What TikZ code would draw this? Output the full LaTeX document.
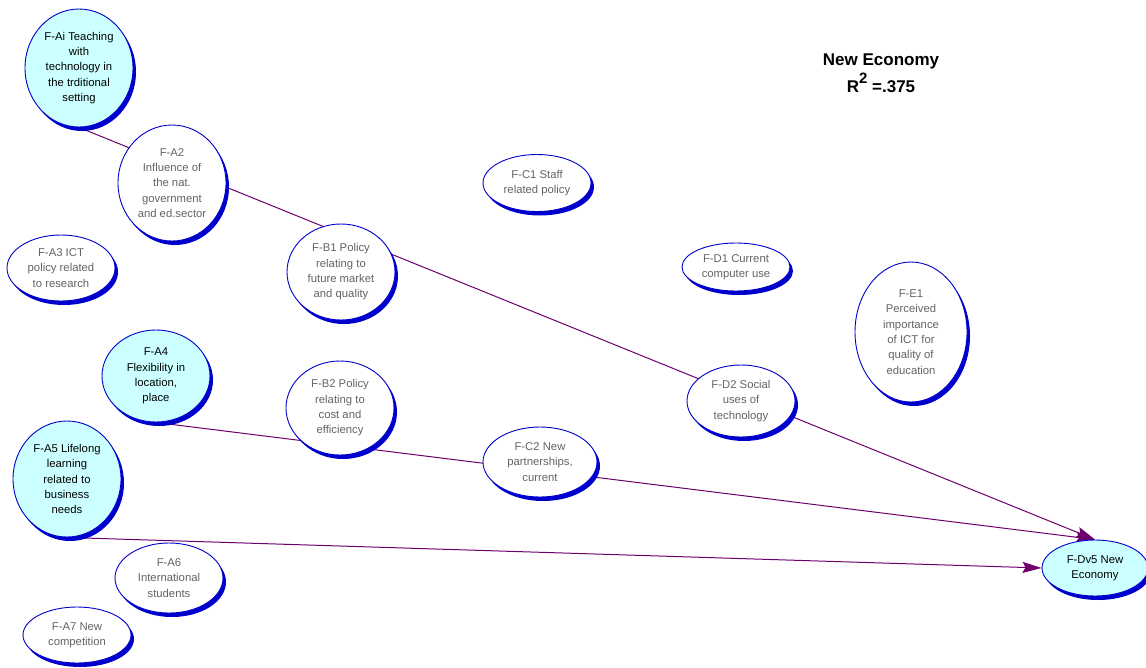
\documentclass[tikz,border=0pt]{standalone}
\usepackage{fontspec}
\setmainfont{Liberation Sans}
\usetikzlibrary{shapes.geometric,shadows,arrows.meta,backgrounds}

\definecolor{rimblue}{RGB}{0,0,204}
\definecolor{keycyan}{RGB}{204,255,255}
\definecolor{labelgray}{RGB}{100,100,100}
\definecolor{linkpurple}{RGB}{110,0,110}

\tikzset{
  factor/.style={ellipse, draw=rimblue, line width=0.9pt, fill=white,
    text=labelgray, align=center, inner sep=0pt,
    font=\fontsize{11.3}{15.3}\selectfont,
    drop shadow={shadow xshift=3pt, shadow yshift=-4pt, fill=rimblue, opacity=1}},
  keyfactor/.style={factor, fill=keycyan, text=black},
  ewh/.style 2 args={minimum width=#1pt, minimum height=#2pt},
  link/.style={draw=linkpurple, line width=1pt,
    -{Stealth[length=19pt, width=11pt, inset=3pt]}},
  heading/.style={align=center, font=\fontsize{17}{27}\selectfont\bfseries}
}

\begin{document}
\begin{tikzpicture}[x=1pt, y=-1pt]
\useasboundingbox (0,0) rectangle (1146,667);

% factor ellipses
\node[keyfactor, ewh={108}{118}] (ai) at (79,68)
  {F-Ai Teaching\\with\\technology in\\the trditional\\setting};
\node[factor, ewh={108}{116}] (a2) at (172,183)
  {F-A2\\Influence of\\the nat.\\government\\and ed.sector};
\node[factor, ewh={108}{66}] (a3) at (61,268)
  {F-A3 ICT\\policy related\\to research};
\node[keyfactor, ewh={108}{92}] (a4) at (156,376)
  {F-A4\\Flexibility in\\location,\\place};
\node[keyfactor, ewh={108}{116}] (a5) at (67,479)
  {F-A5 Lifelong\\learning\\related to\\business\\needs};
\node[factor, ewh={108}{70}] (a6) at (169,578)
  {F-A6\\International\\students};
\node[factor, ewh={108}{56}] (a7) at (77,635)
  {F-A7 New\\competition};
\node[factor, ewh={108}{96}] (b1) at (341,272)
  {F-B1 Policy\\relating to\\future market\\and quality};
\node[factor, ewh={108}{94}] (b2) at (340,408)
  {F-B2 Policy\\relating to\\cost and\\efficiency};
\node[factor, ewh={108}{57}] (c1) at (537,183)
  {F-C1 Staff\\related policy};
\node[factor, ewh={114}{70}] (c2) at (540,462)
  {F-C2 New\\partnerships,\\current};
\node[factor, ewh={108}{48}] (d1) at (736,267)
  {F-D1 Current\\computer use};
\node[factor, ewh={108}{72}] (d2) at (741,401)
  {F-D2 Social\\uses of\\technology};
\node[factor, ewh={112}{140}] (e1) at (911,332)
  {F-E1\\Perceived\\importance\\of ICT for\\quality of\\education};
\node[keyfactor, ewh={106}{56}] (dv5) at (1095,568)
  {F-Dv5 New\\Economy};

% model heading
\node[heading] (title) at (881,73)
  {New Economy\\R\raisebox{0.5em}{\fontsize{15}{15}\selectfont 2} =.375};

% significant paths, drawn beneath the ellipses
\begin{scope}[on background layer]
  \draw[link] (ai.south) -- (dv5.north);
  \draw[link] (a4.south) -- (dv5.north);
  \draw[link] (a5.south) -- (dv5.west);
\end{scope}
\end{tikzpicture}
\end{document}
